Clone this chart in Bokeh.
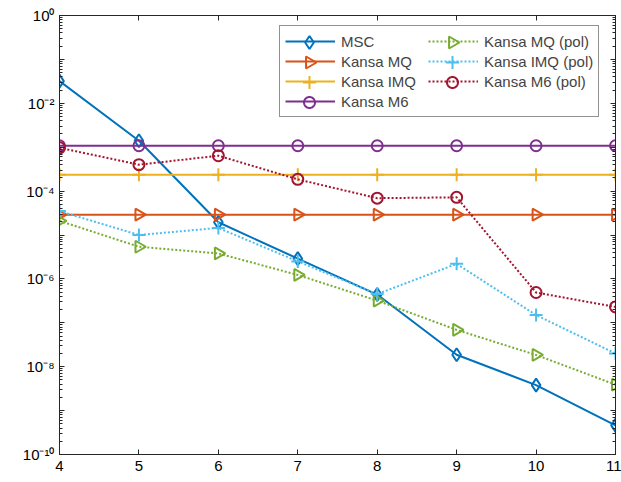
import numpy as np
from bokeh.plotting import figure
from bokeh.models import (Range1d, FixedTicker, CustomJSTickFormatter, LogAxis, LinearAxis,
                          Legend, LegendItem, PolyAnnotation)
from bokeh.embed import file_html
from bokeh.resources import INLINE

x = [4, 5, 6, 7, 8, 9, 10, 11]
msc = [3.2e-2, 1.4e-3, 1.95e-5, 2.9e-6, 4.4e-7, 1.87e-8, 3.8e-9, 4.6e-10]
kansa_mq = [2.9e-5] * 8
kansa_imq = [2.35e-4] * 8
kansa_m6 = [1.08e-3] * 8
kansa_mq_pol = [2.1e-5, 5.4e-6, 3.8e-6, 1.23e-6, 3.2e-7, 6.9e-8, 1.85e-8, 3.9e-9]
kansa_imq_pol = [3.5e-5, 1.0e-5, 1.45e-5, 2.5e-6, 4.5e-7, 2.2e-6, 1.5e-7, 2.0e-8]
kansa_m6_pol = [9.7e-4, 4.0e-4, 6.4e-4, 1.85e-4, 6.9e-5, 7.2e-5, 4.9e-7, 2.3e-7]

x_ticks = [4, 5, 6, 7, 8, 9, 10, 11]
y_decades = list(range(-10, 1))

W, H = 621, 482
FL, FT, FR, FB = 59, 15, 6, 28
p = figure(width=W, height=H, y_axis_type="log", output_backend="svg",
           toolbar_location=None, x_range=Range1d(4, 11), y_range=Range1d(1e-10, 1),
           min_border_left=FL, min_border_top=FT, min_border_right=FR, min_border_bottom=FB)
p.grid.visible = False
p.outline_line_color = "#262626"
p.background_fill_color = "white"
p.border_fill_color = "white"

yt = FixedTicker(ticks=[10.0 ** k for k in y_decades],
                 minor_ticks=[m * 10.0 ** k for k in y_decades[:-1] for m in range(2, 10)])
yfmt = CustomJSTickFormatter(code="""
const e = Math.round(Math.log10(tick));
if (e % 2 !== 0) return "";
const sup = {"-":"\u207b","0":"\u2070","1":"\u00b9","2":"\u00b2","3":"\u00b3","4":"\u2074",
             "5":"\u2075","6":"\u2076","7":"\u2077","8":"\u2078","9":"\u2079"};
return "10" + String(e).split("").map(c => sup[c]).join("");
""")
xt = FixedTicker(ticks=x_ticks, minor_ticks=[])

def style(ax):
    ax.axis_line_color = "#262626"
    ax.major_tick_line_color = "#262626"
    ax.minor_tick_line_color = "#262626"
    ax.major_tick_in = 5
    ax.major_tick_out = 0
    ax.minor_tick_in = 3
    ax.minor_tick_out = 0
    ax.major_label_text_font = "Liberation Sans"
    ax.major_label_text_font_size = "15px"
    ax.major_label_text_color = "black"

p.yaxis.ticker = yt
p.yaxis.formatter = yfmt
p.xaxis.ticker = xt
style(p.xaxis[0]); style(p.yaxis[0])
p.xaxis.major_label_standoff = 6
p.yaxis.major_label_standoff = 5

blank = CustomJSTickFormatter(code="return '';")
ra = LogAxis(ticker=yt, formatter=blank, major_label_standoff=0)
ta = LinearAxis(ticker=xt, formatter=blank, major_label_standoff=0)
for ax in (ra, ta):
    style(ax)
    ax.major_label_text_font_size = "0px"
p.add_layout(ra, "right")
p.add_layout(ta, "above")

series = [
    ("MSC", msc, "#0072BD", "diamond", None),
    ("Kansa MQ", kansa_mq, "#D95319", "triangle", None),
    ("Kansa IMQ", kansa_imq, "#EDB120", "cross", None),
    ("Kansa M6", kansa_m6, "#7E2F8E", "circle", None),
    ("Kansa MQ (pol)", kansa_mq_pol, "#77AC30", "triangle", "2 2"),
    ("Kansa IMQ (pol)", kansa_imq_pol, "#4DBEEE", "cross", "2 2"),
    ("Kansa M6 (pol)", kansa_m6_pol, "#A2142F", "circle", "2 2"),
]
SIZES = {"diamond": 13, "triangle": 12, "cross": 13, "circle": 11}

items = []
for name, ys, col, mk, dash in series:
    lr = p.line(x, ys, line_color=col, line_width=2, line_dash=dash if dash else "solid")
    ang = -np.pi / 2 if mk == "triangle" else 0
    p.scatter(x, ys, marker=mk, size=SIZES[mk], angle=ang, fill_color=None,
              line_color=col, line_width=2)
    items.append(LegendItem(label=name, renderers=[lr]))

# legend box geometry (screen px)
PAD, ROW, GW, STANDOFF, LW = 5, 20, 50, 6, 87
LEG_LEFT, LEG_TOP = 279, 27
leg_h = 2 * PAD + 4 * ROW
vx = LEG_LEFT - FL
vy = (H - FB) - LEG_TOP - leg_h

def marker_poly(mk, cx, cy):
    s = SIZES[mk]
    r = s / 2
    if mk == "diamond":
        return [cx, cx + r / 1.5, cx, cx - r / 1.5], [cy - r, cy, cy + r, cy]
    if mk == "triangle":
        h = r * np.sqrt(3)
        a = h / 3
        return [cx - a, cx - a, cx - a + h], [cy - r, cy + r, cy]
    if mk == "cross":
        return ([cx - r, cx + r, cx, cx, cx, cx], [cy, cy, cy, cy - r, cy + r, cy])
    t = np.linspace(0, 2 * np.pi, 33)[:-1]
    return list(cx + r * np.cos(t)), list(cy + r * np.sin(t))

# legend sample markers (annotations, screen units relative to frame, y upward)
col_w = GW + STANDOFF + LW
frame_bottom = H - FB
for i, (name, ys, col, mk, dash) in enumerate(series):
    c, rrow = divmod(i, 4)
    cx = LEG_LEFT + PAD + c * col_w + GW / 2
    cy = LEG_TOP + PAD + rrow * ROW + ROW / 2
    xs, yy = marker_poly(mk, cx, cy)
    p.add_layout(PolyAnnotation(xs=[float(v - FL) for v in xs],
                                ys=[float(frame_bottom - v) for v in yy],
                                xs_units="screen", ys_units="screen",
                                fill_color=None, fill_alpha=0,
                                line_color=col, line_width=2, line_alpha=1))

leg = Legend(items=items, location=(vx, vy), nrows=4, orientation="vertical",
             label_text_font="Liberation Sans", label_text_font_size="15px",
             glyph_width=GW, glyph_height=ROW, label_height=ROW, label_width=LW,
             spacing=0, padding=PAD, margin=0, label_standoff=STANDOFF,
             border_line_color="#262626", border_line_width=1,
             background_fill_alpha=0)
p.add_layout(leg, "center")

open("out.html", "w").write(file_html(p, INLINE))
